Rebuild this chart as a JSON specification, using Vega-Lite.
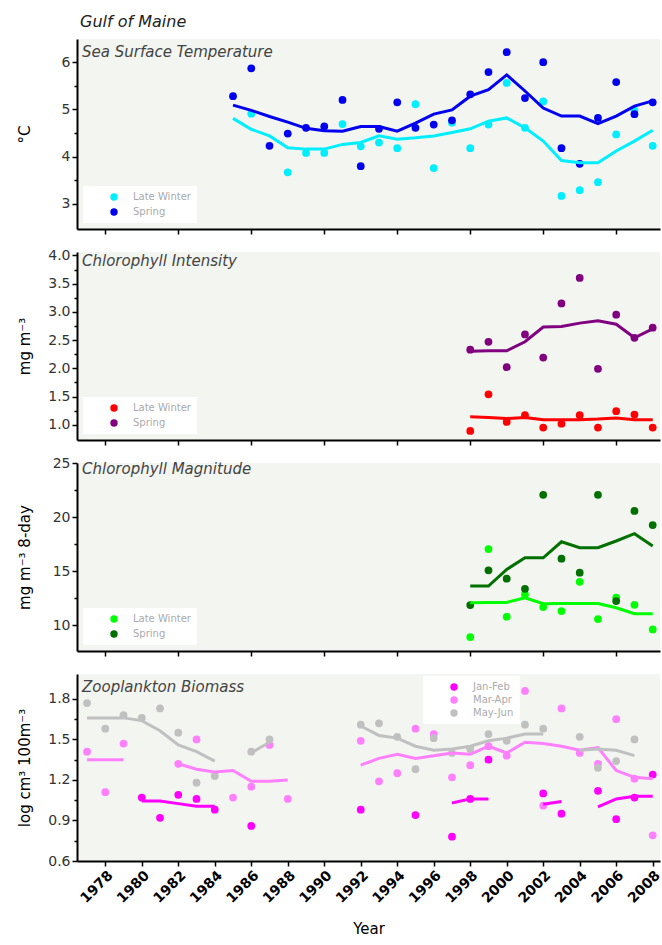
{
  "$schema": "https://vega.github.io/schema/vega-lite/v6.json",
  "padding": {"left": 17, "top": 14, "right": 2, "bottom": 5},
  "background": "white",
  "title": {"text": "Gulf of Maine", "anchor": "start", "frame": "group", "fontStyle": "italic", "fontWeight": "normal", "fontSize": 16, "font": "DejaVu Sans", "color": "#222", "dx": 3, "offset": 9},
  "config": {
    "view": {"fill": "#f3f5f0", "stroke": null},
    "axis": {"grid": false, "domainColor": "black", "tickColor": "black", "domainWidth": 2, "tickWidth": 1.5, "labelFont": "DejaVu Sans", "titleFont": "DejaVu Sans", "labelColor": "#333", "labelFontSize": 14, "titleColor": "black", "titleFontWeight": "normal", "titleFontSize": 15, "labelOverlap": false},
    "legend": {"fillColor": "white", "padding": 6, "labelColor": "#aaaaaa", "labelFontSize": 10, "labelFont": "DejaVu Sans", "symbolSize": 55, "symbolType": "circle", "symbolStrokeWidth": 0, "rowPadding": 5, "symbolOffset": 20, "labelOffset": 14, "title": null},
    "title": {"font": "DejaVu Sans"}
  },
  "datasets": {
    "sst_pts": [
      {"year": 1986, "series": "Late Winter", "value": 4.91},
      {"year": 1988, "series": "Late Winter", "value": 3.67},
      {"year": 1989, "series": "Late Winter", "value": 4.08},
      {"year": 1990, "series": "Late Winter", "value": 4.08},
      {"year": 1991, "series": "Late Winter", "value": 4.69},
      {"year": 1992, "series": "Late Winter", "value": 4.22},
      {"year": 1993, "series": "Late Winter", "value": 4.30},
      {"year": 1994, "series": "Late Winter", "value": 4.18},
      {"year": 1995, "series": "Late Winter", "value": 5.11},
      {"year": 1996, "series": "Late Winter", "value": 3.76},
      {"year": 1997, "series": "Late Winter", "value": 4.72},
      {"year": 1998, "series": "Late Winter", "value": 4.18},
      {"year": 1999, "series": "Late Winter", "value": 4.68},
      {"year": 2000, "series": "Late Winter", "value": 5.56},
      {"year": 2001, "series": "Late Winter", "value": 4.61},
      {"year": 2002, "series": "Late Winter", "value": 5.17},
      {"year": 2003, "series": "Late Winter", "value": 3.17},
      {"year": 2004, "series": "Late Winter", "value": 3.29},
      {"year": 2005, "series": "Late Winter", "value": 3.46},
      {"year": 2006, "series": "Late Winter", "value": 4.47},
      {"year": 2007, "series": "Late Winter", "value": 4.98},
      {"year": 2008, "series": "Late Winter", "value": 4.23},
      {"year": 1985, "series": "Spring", "value": 5.28},
      {"year": 1986, "series": "Spring", "value": 5.87},
      {"year": 1987, "series": "Spring", "value": 4.23},
      {"year": 1988, "series": "Spring", "value": 4.49},
      {"year": 1989, "series": "Spring", "value": 4.61},
      {"year": 1990, "series": "Spring", "value": 4.64},
      {"year": 1991, "series": "Spring", "value": 5.20},
      {"year": 1992, "series": "Spring", "value": 3.80},
      {"year": 1993, "series": "Spring", "value": 4.59},
      {"year": 1994, "series": "Spring", "value": 5.15},
      {"year": 1995, "series": "Spring", "value": 4.61},
      {"year": 1996, "series": "Spring", "value": 4.68},
      {"year": 1997, "series": "Spring", "value": 4.77},
      {"year": 1998, "series": "Spring", "value": 5.32},
      {"year": 1999, "series": "Spring", "value": 5.79},
      {"year": 2000, "series": "Spring", "value": 6.21},
      {"year": 2001, "series": "Spring", "value": 5.24},
      {"year": 2002, "series": "Spring", "value": 6.00},
      {"year": 2003, "series": "Spring", "value": 4.18},
      {"year": 2004, "series": "Spring", "value": 3.85},
      {"year": 2005, "series": "Spring", "value": 4.82},
      {"year": 2006, "series": "Spring", "value": 5.58},
      {"year": 2007, "series": "Spring", "value": 4.90},
      {"year": 2008, "series": "Spring", "value": 5.15}
    ],
    "sst_lines": [
      {"year": 1985, "series": "Late Winter", "seg": "a", "value": 4.81},
      {"year": 1986, "series": "Late Winter", "seg": "a", "value": 4.58},
      {"year": 1987, "series": "Late Winter", "seg": "a", "value": 4.44},
      {"year": 1988, "series": "Late Winter", "seg": "a", "value": 4.19},
      {"year": 1989, "series": "Late Winter", "seg": "a", "value": 4.16},
      {"year": 1990, "series": "Late Winter", "seg": "a", "value": 4.16},
      {"year": 1991, "series": "Late Winter", "seg": "a", "value": 4.26},
      {"year": 1992, "series": "Late Winter", "seg": "a", "value": 4.30},
      {"year": 1993, "series": "Late Winter", "seg": "a", "value": 4.44},
      {"year": 1994, "series": "Late Winter", "seg": "a", "value": 4.37},
      {"year": 1995, "series": "Late Winter", "seg": "a", "value": 4.40},
      {"year": 1996, "series": "Late Winter", "seg": "a", "value": 4.44},
      {"year": 1997, "series": "Late Winter", "seg": "a", "value": 4.51},
      {"year": 1998, "series": "Late Winter", "seg": "a", "value": 4.59},
      {"year": 1999, "series": "Late Winter", "seg": "a", "value": 4.75},
      {"year": 2000, "series": "Late Winter", "seg": "a", "value": 4.82},
      {"year": 2001, "series": "Late Winter", "seg": "a", "value": 4.61},
      {"year": 2002, "series": "Late Winter", "seg": "a", "value": 4.33},
      {"year": 2003, "series": "Late Winter", "seg": "a", "value": 3.92},
      {"year": 2004, "series": "Late Winter", "seg": "a", "value": 3.87},
      {"year": 2005, "series": "Late Winter", "seg": "a", "value": 3.87},
      {"year": 2006, "series": "Late Winter", "seg": "a", "value": 4.12},
      {"year": 2007, "series": "Late Winter", "seg": "a", "value": 4.33},
      {"year": 2008, "series": "Late Winter", "seg": "a", "value": 4.56},
      {"year": 1985, "series": "Spring", "seg": "a", "value": 5.09},
      {"year": 1986, "series": "Spring", "seg": "a", "value": 4.98},
      {"year": 1987, "series": "Spring", "seg": "a", "value": 4.85},
      {"year": 1988, "series": "Spring", "seg": "a", "value": 4.73},
      {"year": 1989, "series": "Spring", "seg": "a", "value": 4.60},
      {"year": 1990, "series": "Spring", "seg": "a", "value": 4.55},
      {"year": 1991, "series": "Spring", "seg": "a", "value": 4.54},
      {"year": 1992, "series": "Spring", "seg": "a", "value": 4.64},
      {"year": 1993, "series": "Spring", "seg": "a", "value": 4.64},
      {"year": 1994, "series": "Spring", "seg": "a", "value": 4.54},
      {"year": 1995, "series": "Spring", "seg": "a", "value": 4.71},
      {"year": 1996, "series": "Spring", "seg": "a", "value": 4.90},
      {"year": 1997, "series": "Spring", "seg": "a", "value": 4.99},
      {"year": 1998, "series": "Spring", "seg": "a", "value": 5.28},
      {"year": 1999, "series": "Spring", "seg": "a", "value": 5.42},
      {"year": 2000, "series": "Spring", "seg": "a", "value": 5.73},
      {"year": 2001, "series": "Spring", "seg": "a", "value": 5.39},
      {"year": 2002, "series": "Spring", "seg": "a", "value": 5.03},
      {"year": 2003, "series": "Spring", "seg": "a", "value": 4.86},
      {"year": 2004, "series": "Spring", "seg": "a", "value": 4.86},
      {"year": 2005, "series": "Spring", "seg": "a", "value": 4.70},
      {"year": 2006, "series": "Spring", "seg": "a", "value": 4.86},
      {"year": 2007, "series": "Spring", "seg": "a", "value": 5.07},
      {"year": 2008, "series": "Spring", "seg": "a", "value": 5.18}
    ],
    "chl_pts": [
      {"year": 1998, "series": "Late Winter", "value": 0.89},
      {"year": 1999, "series": "Late Winter", "value": 1.54},
      {"year": 2000, "series": "Late Winter", "value": 1.05},
      {"year": 2001, "series": "Late Winter", "value": 1.17},
      {"year": 2002, "series": "Late Winter", "value": 0.95},
      {"year": 2003, "series": "Late Winter", "value": 1.02},
      {"year": 2004, "series": "Late Winter", "value": 1.17},
      {"year": 2005, "series": "Late Winter", "value": 0.95},
      {"year": 2006, "series": "Late Winter", "value": 1.24},
      {"year": 2007, "series": "Late Winter", "value": 1.18},
      {"year": 2008, "series": "Late Winter", "value": 0.95},
      {"year": 1998, "series": "Spring", "value": 2.33},
      {"year": 1999, "series": "Spring", "value": 2.47},
      {"year": 2000, "series": "Spring", "value": 2.02},
      {"year": 2001, "series": "Spring", "value": 2.60},
      {"year": 2002, "series": "Spring", "value": 2.19},
      {"year": 2003, "series": "Spring", "value": 3.15},
      {"year": 2004, "series": "Spring", "value": 3.60},
      {"year": 2005, "series": "Spring", "value": 1.99},
      {"year": 2006, "series": "Spring", "value": 2.95},
      {"year": 2007, "series": "Spring", "value": 2.54},
      {"year": 2008, "series": "Spring", "value": 2.72}
    ],
    "chl_lines": [
      {"year": 1998, "series": "Late Winter", "seg": "a", "value": 1.14},
      {"year": 1999, "series": "Late Winter", "seg": "a", "value": 1.13},
      {"year": 2000, "series": "Late Winter", "seg": "a", "value": 1.11},
      {"year": 2001, "series": "Late Winter", "seg": "a", "value": 1.13},
      {"year": 2002, "series": "Late Winter", "seg": "a", "value": 1.09},
      {"year": 2003, "series": "Late Winter", "seg": "a", "value": 1.09},
      {"year": 2004, "series": "Late Winter", "seg": "a", "value": 1.09},
      {"year": 2005, "series": "Late Winter", "seg": "a", "value": 1.10},
      {"year": 2006, "series": "Late Winter", "seg": "a", "value": 1.12},
      {"year": 2007, "series": "Late Winter", "seg": "a", "value": 1.09},
      {"year": 2008, "series": "Late Winter", "seg": "a", "value": 1.09},
      {"year": 1998, "series": "Spring", "seg": "a", "value": 2.30},
      {"year": 1999, "series": "Spring", "seg": "a", "value": 2.31},
      {"year": 2000, "series": "Spring", "seg": "a", "value": 2.31},
      {"year": 2001, "series": "Spring", "seg": "a", "value": 2.47},
      {"year": 2002, "series": "Spring", "seg": "a", "value": 2.73},
      {"year": 2003, "series": "Spring", "seg": "a", "value": 2.74},
      {"year": 2004, "series": "Spring", "seg": "a", "value": 2.80},
      {"year": 2005, "series": "Spring", "seg": "a", "value": 2.84},
      {"year": 2006, "series": "Spring", "seg": "a", "value": 2.78},
      {"year": 2007, "series": "Spring", "seg": "a", "value": 2.54},
      {"year": 2008, "series": "Spring", "seg": "a", "value": 2.70}
    ],
    "mag_pts": [
      {"year": 1998, "series": "Late Winter", "value": 8.89},
      {"year": 1999, "series": "Late Winter", "value": 17.04},
      {"year": 2000, "series": "Late Winter", "value": 10.77},
      {"year": 2001, "series": "Late Winter", "value": 12.84},
      {"year": 2002, "series": "Late Winter", "value": 11.67},
      {"year": 2003, "series": "Late Winter", "value": 11.30},
      {"year": 2004, "series": "Late Winter", "value": 14.0},
      {"year": 2005, "series": "Late Winter", "value": 10.56},
      {"year": 2006, "series": "Late Winter", "value": 12.53},
      {"year": 2007, "series": "Late Winter", "value": 11.88},
      {"year": 2008, "series": "Late Winter", "value": 9.60},
      {"year": 1998, "series": "Spring", "value": 11.85},
      {"year": 1999, "series": "Spring", "value": 15.07},
      {"year": 2000, "series": "Spring", "value": 14.29},
      {"year": 2001, "series": "Spring", "value": 13.36},
      {"year": 2002, "series": "Spring", "value": 22.06},
      {"year": 2003, "series": "Spring", "value": 16.14},
      {"year": 2004, "series": "Spring", "value": 14.85},
      {"year": 2005, "series": "Spring", "value": 22.06},
      {"year": 2006, "series": "Spring", "value": 12.22},
      {"year": 2007, "series": "Spring", "value": 20.56},
      {"year": 2008, "series": "Spring", "value": 19.26}
    ],
    "mag_lines": [
      {"year": 1998, "series": "Late Winter", "seg": "a", "value": 12.07},
      {"year": 1999, "series": "Late Winter", "seg": "a", "value": 12.10},
      {"year": 2000, "series": "Late Winter", "seg": "a", "value": 12.10},
      {"year": 2001, "series": "Late Winter", "seg": "a", "value": 12.53},
      {"year": 2002, "series": "Late Winter", "seg": "a", "value": 11.98},
      {"year": 2003, "series": "Late Winter", "seg": "a", "value": 12.0},
      {"year": 2004, "series": "Late Winter", "seg": "a", "value": 12.0},
      {"year": 2005, "series": "Late Winter", "seg": "a", "value": 12.0},
      {"year": 2006, "series": "Late Winter", "seg": "a", "value": 11.6},
      {"year": 2007, "series": "Late Winter", "seg": "a", "value": 11.05},
      {"year": 2008, "series": "Late Winter", "seg": "a", "value": 11.05},
      {"year": 1998, "series": "Spring", "seg": "a", "value": 13.61},
      {"year": 1999, "series": "Spring", "seg": "a", "value": 13.61},
      {"year": 2000, "series": "Spring", "seg": "a", "value": 15.15},
      {"year": 2001, "series": "Spring", "seg": "a", "value": 16.23},
      {"year": 2002, "series": "Spring", "seg": "a", "value": 16.23},
      {"year": 2003, "series": "Spring", "seg": "a", "value": 17.71},
      {"year": 2004, "series": "Spring", "seg": "a", "value": 17.16},
      {"year": 2005, "series": "Spring", "seg": "a", "value": 17.16},
      {"year": 2006, "series": "Spring", "seg": "a", "value": 17.78},
      {"year": 2007, "series": "Spring", "seg": "a", "value": 18.46},
      {"year": 2008, "series": "Spring", "seg": "a", "value": 17.32}
    ],
    "zoo_pts": [
      {"year": 1980, "series": "Jan-Feb", "value": 1.07},
      {"year": 1981, "series": "Jan-Feb", "value": 0.92},
      {"year": 1982, "series": "Jan-Feb", "value": 1.09},
      {"year": 1983, "series": "Jan-Feb", "value": 1.06},
      {"year": 1984, "series": "Jan-Feb", "value": 0.98},
      {"year": 1986, "series": "Jan-Feb", "value": 0.86},
      {"year": 1992, "series": "Jan-Feb", "value": 0.98},
      {"year": 1995, "series": "Jan-Feb", "value": 0.94},
      {"year": 1997, "series": "Jan-Feb", "value": 0.78},
      {"year": 1998, "series": "Jan-Feb", "value": 1.06},
      {"year": 1999, "series": "Jan-Feb", "value": 1.35},
      {"year": 2002, "series": "Jan-Feb", "value": 1.10},
      {"year": 2003, "series": "Jan-Feb", "value": 0.95},
      {"year": 2005, "series": "Jan-Feb", "value": 1.12},
      {"year": 2006, "series": "Jan-Feb", "value": 0.91},
      {"year": 2007, "series": "Jan-Feb", "value": 1.07},
      {"year": 2008, "series": "Jan-Feb", "value": 1.24},
      {"year": 1977, "series": "Mar-Apr", "value": 1.41},
      {"year": 1978, "series": "Mar-Apr", "value": 1.11},
      {"year": 1979, "series": "Mar-Apr", "value": 1.47},
      {"year": 1982, "series": "Mar-Apr", "value": 1.32},
      {"year": 1983, "series": "Mar-Apr", "value": 1.50},
      {"year": 1985, "series": "Mar-Apr", "value": 1.07},
      {"year": 1986, "series": "Mar-Apr", "value": 1.15},
      {"year": 1987, "series": "Mar-Apr", "value": 1.46},
      {"year": 1988, "series": "Mar-Apr", "value": 1.06},
      {"year": 1992, "series": "Mar-Apr", "value": 1.49},
      {"year": 1993, "series": "Mar-Apr", "value": 1.19},
      {"year": 1994, "series": "Mar-Apr", "value": 1.25},
      {"year": 1995, "series": "Mar-Apr", "value": 1.58},
      {"year": 1996, "series": "Mar-Apr", "value": 1.54},
      {"year": 1997, "series": "Mar-Apr", "value": 1.22},
      {"year": 1998, "series": "Mar-Apr", "value": 1.31},
      {"year": 1999, "series": "Mar-Apr", "value": 1.45},
      {"year": 2000, "series": "Mar-Apr", "value": 1.38},
      {"year": 2001, "series": "Mar-Apr", "value": 1.86},
      {"year": 2002, "series": "Mar-Apr", "value": 1.01},
      {"year": 2003, "series": "Mar-Apr", "value": 1.73},
      {"year": 2004, "series": "Mar-Apr", "value": 1.40},
      {"year": 2005, "series": "Mar-Apr", "value": 1.32},
      {"year": 2006, "series": "Mar-Apr", "value": 1.65},
      {"year": 2007, "series": "Mar-Apr", "value": 1.21},
      {"year": 2008, "series": "Mar-Apr", "value": 0.79},
      {"year": 1977, "series": "May-Jun", "value": 1.77},
      {"year": 1978, "series": "May-Jun", "value": 1.58},
      {"year": 1979, "series": "May-Jun", "value": 1.68},
      {"year": 1980, "series": "May-Jun", "value": 1.66},
      {"year": 1981, "series": "May-Jun", "value": 1.73},
      {"year": 1982, "series": "May-Jun", "value": 1.55},
      {"year": 1983, "series": "May-Jun", "value": 1.18},
      {"year": 1984, "series": "May-Jun", "value": 1.23},
      {"year": 1986, "series": "May-Jun", "value": 1.41},
      {"year": 1987, "series": "May-Jun", "value": 1.50},
      {"year": 1992, "series": "May-Jun", "value": 1.61},
      {"year": 1993, "series": "May-Jun", "value": 1.62},
      {"year": 1994, "series": "May-Jun", "value": 1.52},
      {"year": 1995, "series": "May-Jun", "value": 1.28},
      {"year": 1996, "series": "May-Jun", "value": 1.51},
      {"year": 1997, "series": "May-Jun", "value": 1.40},
      {"year": 1998, "series": "May-Jun", "value": 1.43},
      {"year": 1999, "series": "May-Jun", "value": 1.54},
      {"year": 2000, "series": "May-Jun", "value": 1.49},
      {"year": 2001, "series": "May-Jun", "value": 1.61},
      {"year": 2002, "series": "May-Jun", "value": 1.58},
      {"year": 2004, "series": "May-Jun", "value": 1.52},
      {"year": 2005, "series": "May-Jun", "value": 1.29},
      {"year": 2006, "series": "May-Jun", "value": 1.34},
      {"year": 2007, "series": "May-Jun", "value": 1.50}
    ],
    "zoo_lines": [
      {"year": 1980, "series": "Jan-Feb", "seg": "a", "value": 1.045},
      {"year": 1981, "series": "Jan-Feb", "seg": "a", "value": 1.045},
      {"year": 1982, "series": "Jan-Feb", "seg": "a", "value": 1.025},
      {"year": 1983, "series": "Jan-Feb", "seg": "a", "value": 1.005},
      {"year": 1984, "series": "Jan-Feb", "seg": "a", "value": 1.005},
      {"year": 1997, "series": "Jan-Feb", "seg": "b", "value": 1.03},
      {"year": 1998, "series": "Jan-Feb", "seg": "b", "value": 1.06},
      {"year": 1999, "series": "Jan-Feb", "seg": "b", "value": 1.06},
      {"year": 2002, "series": "Jan-Feb", "seg": "c", "value": 1.02},
      {"year": 2003, "series": "Jan-Feb", "seg": "c", "value": 1.04},
      {"year": 2005, "series": "Jan-Feb", "seg": "d", "value": 1.00},
      {"year": 2006, "series": "Jan-Feb", "seg": "d", "value": 1.06},
      {"year": 2007, "series": "Jan-Feb", "seg": "d", "value": 1.08},
      {"year": 2008, "series": "Jan-Feb", "seg": "d", "value": 1.08},
      {"year": 1977, "series": "Mar-Apr", "seg": "a", "value": 1.35},
      {"year": 1979, "series": "Mar-Apr", "seg": "a", "value": 1.35},
      {"year": 1982, "series": "Mar-Apr", "seg": "b", "value": 1.32},
      {"year": 1983, "series": "Mar-Apr", "seg": "b", "value": 1.28},
      {"year": 1984, "series": "Mar-Apr", "seg": "b", "value": 1.26},
      {"year": 1985, "series": "Mar-Apr", "seg": "b", "value": 1.27},
      {"year": 1986, "series": "Mar-Apr", "seg": "b", "value": 1.19},
      {"year": 1987, "series": "Mar-Apr", "seg": "b", "value": 1.19},
      {"year": 1988, "series": "Mar-Apr", "seg": "b", "value": 1.20},
      {"year": 1992, "series": "Mar-Apr", "seg": "c", "value": 1.31},
      {"year": 1993, "series": "Mar-Apr", "seg": "c", "value": 1.36},
      {"year": 1994, "series": "Mar-Apr", "seg": "c", "value": 1.39},
      {"year": 1995, "series": "Mar-Apr", "seg": "c", "value": 1.36},
      {"year": 1996, "series": "Mar-Apr", "seg": "c", "value": 1.38},
      {"year": 1997, "series": "Mar-Apr", "seg": "c", "value": 1.40},
      {"year": 1998, "series": "Mar-Apr", "seg": "c", "value": 1.39},
      {"year": 1999, "series": "Mar-Apr", "seg": "c", "value": 1.45},
      {"year": 2000, "series": "Mar-Apr", "seg": "c", "value": 1.40},
      {"year": 2001, "series": "Mar-Apr", "seg": "c", "value": 1.48},
      {"year": 2002, "series": "Mar-Apr", "seg": "c", "value": 1.47},
      {"year": 2003, "series": "Mar-Apr", "seg": "c", "value": 1.45},
      {"year": 2004, "series": "Mar-Apr", "seg": "c", "value": 1.42},
      {"year": 2005, "series": "Mar-Apr", "seg": "c", "value": 1.44},
      {"year": 2006, "series": "Mar-Apr", "seg": "c", "value": 1.27},
      {"year": 2007, "series": "Mar-Apr", "seg": "c", "value": 1.22},
      {"year": 2008, "series": "Mar-Apr", "seg": "c", "value": 1.21},
      {"year": 1977, "series": "May-Jun", "seg": "a", "value": 1.66},
      {"year": 1978, "series": "May-Jun", "seg": "a", "value": 1.66},
      {"year": 1979, "series": "May-Jun", "seg": "a", "value": 1.66},
      {"year": 1980, "series": "May-Jun", "seg": "a", "value": 1.64},
      {"year": 1981, "series": "May-Jun", "seg": "a", "value": 1.565},
      {"year": 1982, "series": "May-Jun", "seg": "a", "value": 1.46},
      {"year": 1983, "series": "May-Jun", "seg": "a", "value": 1.41},
      {"year": 1984, "series": "May-Jun", "seg": "a", "value": 1.34},
      {"year": 1986, "series": "May-Jun", "seg": "b", "value": 1.40},
      {"year": 1987, "series": "May-Jun", "seg": "b", "value": 1.48},
      {"year": 1992, "series": "May-Jun", "seg": "c", "value": 1.60},
      {"year": 1993, "series": "May-Jun", "seg": "c", "value": 1.53},
      {"year": 1994, "series": "May-Jun", "seg": "c", "value": 1.51},
      {"year": 1995, "series": "May-Jun", "seg": "c", "value": 1.45},
      {"year": 1996, "series": "May-Jun", "seg": "c", "value": 1.42},
      {"year": 1997, "series": "May-Jun", "seg": "c", "value": 1.43},
      {"year": 1998, "series": "May-Jun", "seg": "c", "value": 1.45},
      {"year": 1999, "series": "May-Jun", "seg": "c", "value": 1.49},
      {"year": 2000, "series": "May-Jun", "seg": "c", "value": 1.51},
      {"year": 2001, "series": "May-Jun", "seg": "c", "value": 1.54},
      {"year": 2002, "series": "May-Jun", "seg": "c", "value": 1.54},
      {"year": 2004, "series": "May-Jun", "seg": "d", "value": 1.42},
      {"year": 2005, "series": "May-Jun", "seg": "d", "value": 1.43},
      {"year": 2006, "series": "May-Jun", "seg": "d", "value": 1.42},
      {"year": 2007, "series": "May-Jun", "seg": "d", "value": 1.38}
    ]
  },
  "vconcat": [
    {
      "width": 583, "height": 190,
      "title": {"text": "Sea Surface Temperature", "anchor": "start", "frame": "group", "offset": -21, "dx": 5, "fontStyle": "italic", "fontWeight": "normal", "fontSize": 15, "color": "#444"},
      "layer": [
        {
          "data": {"name": "sst_pts"},
          "mark": {"type": "circle", "size": 60, "opacity": 1},
          "encoding": {
            "x": {"field": "year", "type": "quantitative", "scale": {"domain": [1976.45, 2008.4], "nice": false, "zero": false}, "axis": {"values": [1978,1980,1982,1984,1986,1988,1990,1992,1994,1996,1998,2000,2002,2004,2006,2008], "labels": false, "title": null, "tickSize": 5}},
            "y": {"field": "value", "type": "quantitative", "scale": {"domain": [2.47, 6.49], "nice": false, "zero": false}, "axis": {"orient": "left", "values": [3,4,5,6], "format": "d", "title": "°C", "titleX": -45, "tickSize": 5}},
            "color": {"field": "series", "type": "nominal", "scale": {"domain": ["Late Winter", "Spring"], "range": ["#00eeff", "#0000ee"]}, "legend": {"orient": "bottom-left", "offset": 6}}
          }
        },
        {
          "data": {"name": "sst_lines"},
          "mark": {"type": "line", "strokeWidth": 3},
          "encoding": {
            "x": {"field": "year", "type": "quantitative"},
            "y": {"field": "value", "type": "quantitative", "axis": {"orient": "left", "values": [3.5,4.5,5.5], "labels": false, "domain": false, "title": null, "tickSize": 3}},
            "stroke": {"field": "series", "type": "nominal", "scale": {"domain": ["Late Winter", "Spring"], "range": ["#00eeff", "#0000ee"]}, "legend": null},
            "detail": {"field": "seg"}
          }
        }
      ],
      "resolve": {"axis": {"y": "independent"}}
    },
    {
      "width": 583, "height": 188,
      "title": {"text": "Chlorophyll Intensity", "anchor": "start", "frame": "group", "offset": -21, "dx": 5, "fontStyle": "italic", "fontWeight": "normal", "fontSize": 15, "color": "#444"},
      "layer": [
        {
          "data": {"name": "chl_pts"},
          "mark": {"type": "circle", "size": 60, "opacity": 1},
          "encoding": {
            "x": {"field": "year", "type": "quantitative", "scale": {"domain": [1976.45, 2008.4], "nice": false, "zero": false}, "axis": {"values": [1978,1980,1982,1984,1986,1988,1990,1992,1994,1996,1998,2000,2002,2004,2006,2008], "labels": false, "title": null, "tickSize": 5}},
            "y": {"field": "value", "type": "quantitative", "scale": {"domain": [0.73, 4.06], "nice": false, "zero": false}, "axis": {"orient": "left", "values": [1.0,1.5,2.0,2.5,3.0,3.5,4.0], "format": ".1f", "title": "mg m⁻³", "titleX": -45, "tickSize": 5}},
            "color": {"field": "series", "type": "nominal", "scale": {"domain": ["Late Winter", "Spring"], "range": ["#ff0000", "#800080"]}, "legend": {"orient": "bottom-left", "offset": 6}}
          }
        },
        {
          "data": {"name": "chl_lines"},
          "mark": {"type": "line", "strokeWidth": 3},
          "encoding": {
            "x": {"field": "year", "type": "quantitative"},
            "y": {"field": "value", "type": "quantitative", "axis": {"orient": "left", "values": [1.25,1.75,2.25,2.75,3.25,3.75], "labels": false, "domain": false, "title": null, "tickSize": 3}},
            "stroke": {"field": "series", "type": "nominal", "scale": {"domain": ["Late Winter", "Spring"], "range": ["#ff0000", "#800080"]}, "legend": null},
            "detail": {"field": "seg"}
          }
        }
      ],
      "resolve": {"axis": {"y": "independent"}}
    },
    {
      "width": 583, "height": 188,
      "title": {"text": "Chlorophyll Magnitude", "anchor": "start", "frame": "group", "offset": -21, "dx": 5, "fontStyle": "italic", "fontWeight": "normal", "fontSize": 15, "color": "#444"},
      "layer": [
        {
          "data": {"name": "mag_pts"},
          "mark": {"type": "circle", "size": 60, "opacity": 1},
          "encoding": {
            "x": {"field": "year", "type": "quantitative", "scale": {"domain": [1976.45, 2008.4], "nice": false, "zero": false}, "axis": {"values": [1978,1980,1982,1984,1986,1988,1990,1992,1994,1996,1998,2000,2002,2004,2006,2008], "labels": false, "title": null, "tickSize": 5}},
            "y": {"field": "value", "type": "quantitative", "scale": {"domain": [7.6, 25], "nice": false, "zero": false}, "axis": {"orient": "left", "values": [10,15,20,25], "format": "d", "title": "mg m⁻³ 8-day", "titleX": -45, "tickSize": 5}},
            "color": {"field": "series", "type": "nominal", "scale": {"domain": ["Late Winter", "Spring"], "range": ["#00ff00", "#007000"]}, "legend": {"orient": "bottom-left", "offset": 6}}
          }
        },
        {
          "data": {"name": "mag_lines"},
          "mark": {"type": "line", "strokeWidth": 3},
          "encoding": {
            "x": {"field": "year", "type": "quantitative"},
            "y": {"field": "value", "type": "quantitative", "axis": {"orient": "left", "values": [12.5,17.5,22.5], "labels": false, "domain": false, "title": null, "tickSize": 3}},
            "stroke": {"field": "series", "type": "nominal", "scale": {"domain": ["Late Winter", "Spring"], "range": ["#00ff00", "#007000"]}, "legend": null},
            "detail": {"field": "seg"}
          }
        }
      ],
      "resolve": {"axis": {"y": "independent"}}
    },
    {
      "width": 583, "height": 187,
      "title": {"text": "Zooplankton Biomass", "anchor": "start", "frame": "group", "offset": -21, "dx": 5, "fontStyle": "italic", "fontWeight": "normal", "fontSize": 15, "color": "#444"},
      "layer": [
        {
          "data": {"name": "zoo_pts"},
          "mark": {"type": "circle", "size": 60, "opacity": 1},
          "encoding": {
            "x": {"field": "year", "type": "quantitative", "scale": {"domain": [1976.45, 2008.4], "nice": false, "zero": false}, "axis": {"values": [1978,1980,1982,1984,1986,1988,1990,1992,1994,1996,1998,2000,2002,2004,2006,2008], "format": "d", "labelOverlap": false, "labelFlush": false, "labelAngle": -45, "labelAlign": "right", "labelBaseline": "top", "labelPadding": 2, "labelFontWeight": "bold", "labelColor": "black", "labelFontSize": 14, "title": "Year", "titlePadding": 16, "titleFontSize": 15, "tickSize": 5}},
            "y": {"field": "value", "type": "quantitative", "scale": {"domain": [0.6, 1.985], "nice": false, "zero": false}, "axis": {"orient": "left", "values": [0.6,0.9,1.2,1.5,1.8], "format": ".1f", "title": "log cm³ 100m⁻³", "titleX": -45, "tickSize": 5}},
            "color": {"field": "series", "type": "nominal", "scale": {"domain": ["Jan-Feb", "Mar-Apr", "May-Jun"], "range": ["#ff00ff", "#ff80ff", "#c0c0c0"]}, "legend": {"orient": "none", "legendX": 346, "legendY": 2, "rowPadding": 3}}
          }
        },
        {
          "data": {"name": "zoo_lines"},
          "mark": {"type": "line", "strokeWidth": 3},
          "encoding": {
            "x": {"field": "year", "type": "quantitative", "axis": {"values": [1978,1980,1982,1984,1986,1988,1990,1992,1994,1996,1998,2000,2002,2004,2006,2008], "format": "d", "labelOverlap": false, "labelFlush": false, "labelAngle": -45, "labelAlign": "right", "labelBaseline": "top", "labelPadding": 2, "labelFontWeight": "bold", "labelColor": "black", "labelFontSize": 14, "title": "Year", "titlePadding": 16, "titleFontSize": 15, "tickSize": 5}},
            "y": {"field": "value", "type": "quantitative", "axis": {"orient": "left", "values": [0.75,1.05,1.35,1.65], "labels": false, "domain": false, "title": null, "tickSize": 3}},
            "stroke": {"field": "series", "type": "nominal", "scale": {"domain": ["Jan-Feb", "Mar-Apr", "May-Jun"], "range": ["#ff00ff", "#ff80ff", "#c0c0c0"]}, "legend": null},
            "detail": {"field": "seg"}
          }
        }
      ],
      "resolve": {"axis": {"y": "independent"}}
    }
  ],
  "spacing": 23,
  "bounds": "flush",
  "resolve": {"scale": {"y": "independent", "color": "independent", "stroke": "independent"}, "axis": {"y": "independent", "x": "independent"}, "legend": {"color": "independent"}}
}
